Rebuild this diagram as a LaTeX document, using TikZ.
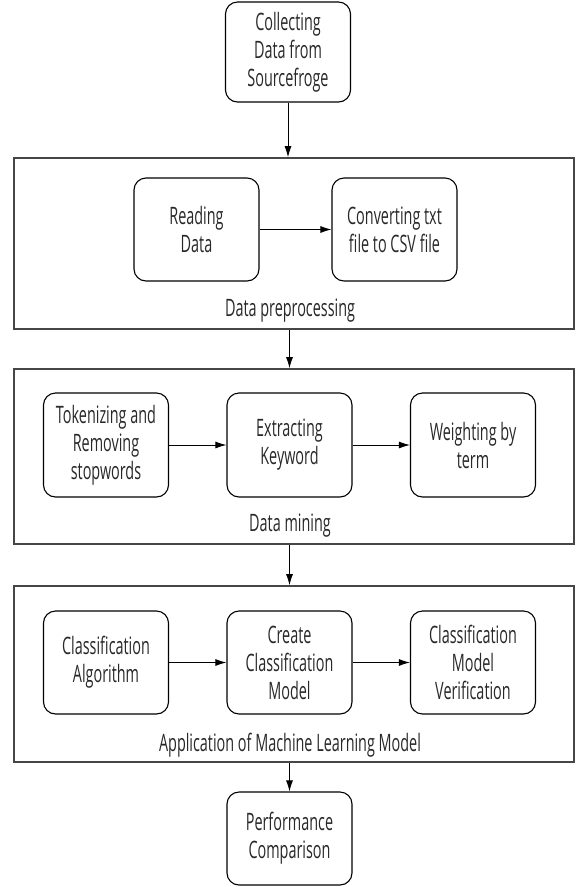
\documentclass[tikz,border=0pt]{standalone}
\usepackage{fontspec}
\setmainfont{Open Sans}[FakeStretch=0.6]
\usepackage{tikz}
\usetikzlibrary{arrows.meta,positioning,calc}
\definecolor{mytextgray}{RGB}{40,40,40}
\definecolor{myframegray}{RGB}{70,70,70}

\begin{document}
\begin{tikzpicture}[
  x=1pt,y=-1pt,
  font=\fontsize{24}{28}\selectfont,
  text=mytextgray,
  mybox/.style={
    draw=black,
    line width=1.1pt,
    rounded corners=12pt,
    minimum width=125pt,
    minimum height=103pt,
    align=center,
    inner sep=0pt
    },
  myframe/.style={
    draw=myframegray,
    line width=1.6pt,
    minimum width=560pt,
    inner sep=0pt
    },
  myarrow/.style={
    draw=black,
    line width=0.9pt,
    -{Latex[length=11pt,width=7pt]}
    }
]
\useasboundingbox (0,0) rectangle (576,887);

\node[mybox,minimum height=100pt] (collect) at (288,52) {Collecting\\Data from\\Sourcefroge};

% data preprocessing
\node[myframe,minimum height=171pt] (prep) at (294,243.5) {};
\node[mybox] (read) at (196.5,229.5) {Reading\\Data};
\node[mybox] (conv) at (394.5,229.5) {Converting txt\\file to CSV file};
\node (preplabel) at (290,311) {Data preprocessing};

% data mining
\node[myframe,minimum height=175pt] (mine) at (294,456.5) {};
\node[mybox,minimum height=104pt] (token) at (106,445) {Tokenizing and\\Removing\\stopwords};
\node[mybox,minimum height=104pt] (extract) at (289.5,445) {Extracting\\Keyword};
\node[mybox,minimum height=104pt] (weight) at (473,445) {Weighting by\\term};
\node (minelabel) at (290,526) {Data mining};

% machine learning
\node[myframe,minimum height=176pt] (learn) at (294,674) {};
\node[mybox] (algo) at (106,662.5) {Classification\\Algorithm};
\node[mybox] (create) at (289.5,662.5) {Create\\Classification\\Model};
\node[mybox] (verify) at (473,662.5) {Classification\\Model\\Verification};
\node (learnlabel) at (290,745) {Application of Machine Learning Model};

\node[mybox,minimum height=93pt] (perf) at (289.5,838.5) {Performance\\Comparison};

\draw[myarrow] (collect) -- (collect |- prep.north);
\draw[myarrow] (read) -- (conv);
\draw[myarrow] (prep.south -| extract) -- (extract |- mine.north);
\draw[myarrow] (token) -- (extract);
\draw[myarrow] (extract) -- (weight);
\draw[myarrow] (mine.south -| create) -- (create |- learn.north);
\draw[myarrow] (algo) -- (create);
\draw[myarrow] (create) -- (verify);
\draw[myarrow] (learn.south -| perf) -- (perf);

\end{tikzpicture}
\end{document}
